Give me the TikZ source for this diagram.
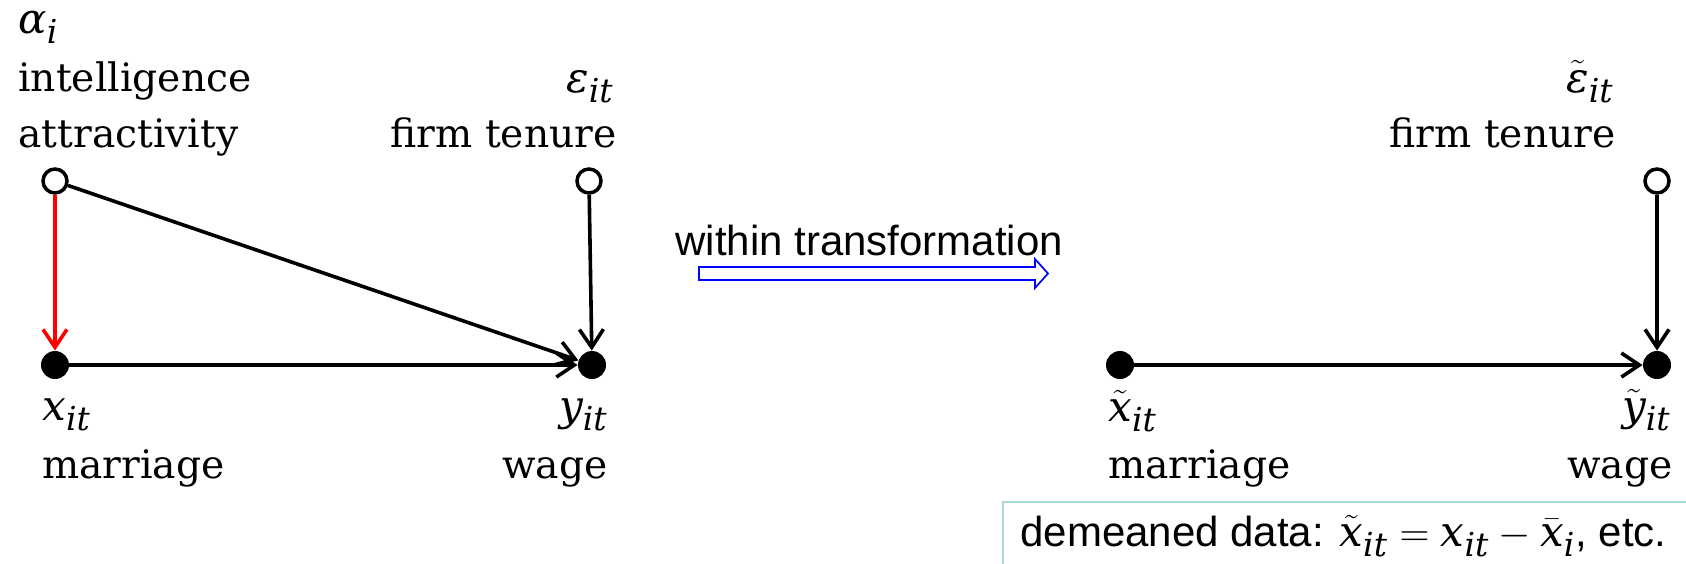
\documentclass[tikz,border=0pt]{standalone}
\usepackage{fontspec}
\newfontfamily\arialf{Liberation Sans}
\newfontfamily\dvs{DejaVu Serif}
\newcommand{\mv}[1]{\hbox{\dvs\itshape\fontsize{21}{23}\selectfont #1}}
\newcommand{\ms}[1]{\hbox{\dvs\itshape\fontsize{16.5}{18}\selectfont #1}}
\usetikzlibrary{arrows.meta}
\definecolor{boxline}{HTML}{A8DADC}
\definecolor{pureblue}{HTML}{0000FF}
\definecolor{purered}{HTML}{FF0000}
\begin{document}
\begin{tikzpicture}[x=0.5pt,y=-0.5pt,
  lab/.style={font=\dvs\fontsize{19.6}{22}\selectfont,inner sep=0pt},
  sanslab/.style={font=\arialf\fontsize{21}{24}\selectfont,inner sep=0pt},
  opendot/.style={circle,draw,line width=1.75pt,fill=white,minimum size=12pt,inner sep=0pt},
  fulldot/.style={circle,fill,minimum size=14pt,inner sep=0pt},
  link/.style={line width=1.8pt,-{Straight Barb[length=9pt,width=12pt]}},
]
\useasboundingbox (0,0) rectangle (1686,563);

% ---- left graph: nodes
\node[opendot] (a) at (55,181) {};
\node[opendot] (e) at (589,181) {};
\node[fulldot] (x) at (55,365) {};
\node[fulldot] (y) at (592,365) {};

% ---- left graph: labels
\node[lab,anchor=base west] (alab) at (18,33) {$\mv{α}_{\ms{i}}$};
\node[lab,anchor=base west] (alab1) at (18,91) {intelligence};
\node[lab,anchor=base west] (alab2) at (18,147) {attractivity};
\node[lab,anchor=base east] (elab) at (614,92) {$\mv{ε}_{\ms{it}}$};
\node[lab,anchor=base east] (elab1) at (617,147) {firm tenure};
\node[lab,anchor=base west] (xlab) at (42,420) {$\mv{x}_{\ms{it}}$};
\node[lab,anchor=base west] (xlab1) at (42,478) {marriage};
\node[lab,anchor=base east] (ylab) at (608,420) {$\mv{y}_{\ms{it}}$};
\node[lab,anchor=base east] (ylab1) at (608,478) {wage};

% ---- left graph: connectors
\draw[link,purered] (a) -- (x);
\draw[link] (a) -- (y);
\draw[link] (e) -- (y);
\draw[link] (x) -- (y);

% ---- transformation arrow
\node[sanslab,anchor=base west] (wt) at (675,255) {within transformation};
\draw[pureblue,line width=0.85pt,fill=white]
  (699,267) -- (1035,267) -- (1035,259) -- (1048,273.5) -- (1035,288) -- (1035,280) -- (699,280) -- cycle;

% ---- right graph: nodes
\node[opendot] (e2) at (1657,181) {};
\node[fulldot] (x2) at (1120,365) {};
\node[fulldot] (y2) at (1657,365) {};

% ---- right graph: labels
\node[lab,anchor=base east] (e2lab) at (1614,92) {$\tilde{\mv{ε}}_{\ms{it}}$};
\node[lab,anchor=base east] (e2lab1) at (1616,147) {firm tenure};
\node[lab,anchor=base west] (x2lab) at (1108,421) {$\tilde{\mv{x}}_{\ms{it}}$};
\node[lab,anchor=base west] (x2lab1) at (1108,478) {marriage};
\node[lab,anchor=base east] (y2lab) at (1671,420) {$\tilde{\mv{y}}_{\ms{it}}$};
\node[lab,anchor=base east] (y2lab1) at (1673,478) {wage};

% ---- right graph: connectors
\draw[link] (e2) -- (y2);
\draw[link] (x2) -- (y2);

% ---- note box
\draw[boxline,line width=1pt] (1003,502) rectangle (1700,580);
\node[sanslab,anchor=base west] (note) at (1020,546)
  {demeaned data: $\tilde{\mv{x}}_{\ms{it}}=\mv{x}_{\ms{it}}-\bar{\mv{x}}_{\ms{i}}$, etc.};
\end{tikzpicture}
\end{document}
